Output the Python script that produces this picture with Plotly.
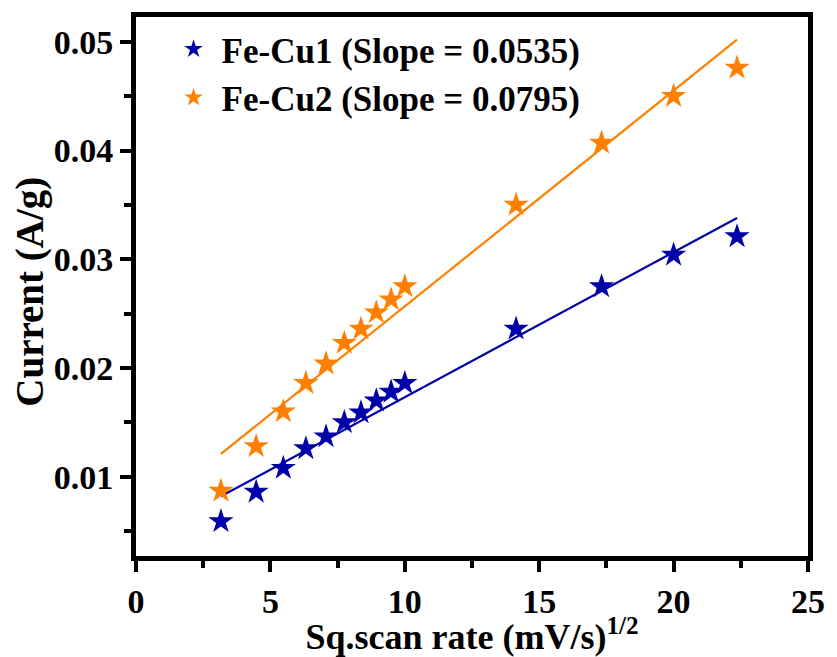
import plotly.graph_objects as go

# Data
x_sqrt_rate = [3.16, 4.47, 5.48, 6.32, 7.07, 7.75, 8.37, 8.94, 9.49, 10.0, 14.14, 17.32, 20.0, 22.36]
fecu1_current = [0.0059, 0.0086, 0.0108, 0.0126, 0.0137, 0.0150, 0.0159, 0.0170, 0.0178, 0.0186, 0.0236, 0.0275, 0.0304, 0.0321]
fecu2_current = [0.0087, 0.0128, 0.0160, 0.0186, 0.0204, 0.0223, 0.0236, 0.0251, 0.0263, 0.0275, 0.0350, 0.0407, 0.0450, 0.0476]

fit_x = [3.16, 22.36]
fit1_y = [0.0082, 0.0338]
fit2_y = [0.0121, 0.0502]

names = ["Fe-Cu1 (Slope = 0.0535)", "Fe-Cu2 (Slope = 0.0795)"]
colors = ["#0000A8", "#FF8000"]

x_ticks = [0, 5, 10, 15, 20, 25]
y_ticks = [0.01, 0.02, 0.03, 0.04, 0.05]
y_minor = [0.005, 0.015, 0.025, 0.035, 0.045]

FONT = "Liberation Serif"

fig = go.Figure()

for ys, fy, c, n in [(fecu1_current, fit1_y, colors[0], names[0]),
                     (fecu2_current, fit2_y, colors[1], names[1])]:
    fig.add_trace(go.Scatter(x=fit_x, y=fy, mode="lines",
                             line=dict(color=c, width=2.2), showlegend=False,
                             hoverinfo="skip"))
    fig.add_trace(go.Scatter(x=x_sqrt_rate, y=ys, mode="markers",
                             marker=dict(symbol="star", size=19, color=c,
                                         line=dict(width=0)),
                             showlegend=False, name=n))
    # legend entry
    fig.add_trace(go.Scatter(x=[None], y=[None], mode="markers",
                             marker=dict(symbol="star", size=14, color=c,
                                         line=dict(width=0)),
                             name="<b>" + n + "</b>", showlegend=True))

axis_common = dict(
    showline=True, linecolor="black", linewidth=5, mirror=True,
    ticks="outside", ticklen=11, tickwidth=3.5, tickcolor="black",
    showgrid=False, zeroline=False,
    tickfont=dict(family=FONT, size=34, color="black"),
)

fig.update_xaxes(
    range=[0, 25], tickvals=x_ticks, ticktext=[f"<b>{v}</b>" for v in x_ticks],
    minor=dict(ticks="outside", ticklen=7, tickwidth=3.5, tickcolor="black",
               dtick=2.5, showgrid=False),
    title=dict(text="<b>Sq.scan rate (mV/s)<sup>1/2</sup></b>",
               font=dict(family=FONT, size=36, color="black"), standoff=0),
    **axis_common,
)
fig.update_yaxes(
    range=[0.00271, 0.05228], tickvals=y_ticks,
    ticktext=[f"<b>{v:.2f}</b>" for v in y_ticks],
    minor=dict(ticks="outside", ticklen=7, tickwidth=3.5, tickcolor="black",
               tickvals=y_minor, showgrid=False),
    **axis_common,
)

# y-axis title as rotated annotation for precise placement
fig.add_annotation(
    text="<b>Current (A/g)</b>", xref="paper", yref="paper",
    x=-0.158, y=0.49, xanchor="center", yanchor="middle",
    textangle=-90, showarrow=False,
    font=dict(family=FONT, size=39, color="black"),
)

fig.update_layout(
    width=837, height=657,
    margin=dict(l=136, r=23, t=17, b=96),
    plot_bgcolor="white", paper_bgcolor="white",
    font=dict(family=FONT, color="black"),
    legend=dict(x=0.044, y=0.995, xanchor="left", yanchor="top",
                bgcolor="rgba(0,0,0,0)", borderwidth=0,
                font=dict(family=FONT, size=35, color="black"),
                itemwidth=46, tracegroupgap=0),
)

fig.write_html("out.html")
